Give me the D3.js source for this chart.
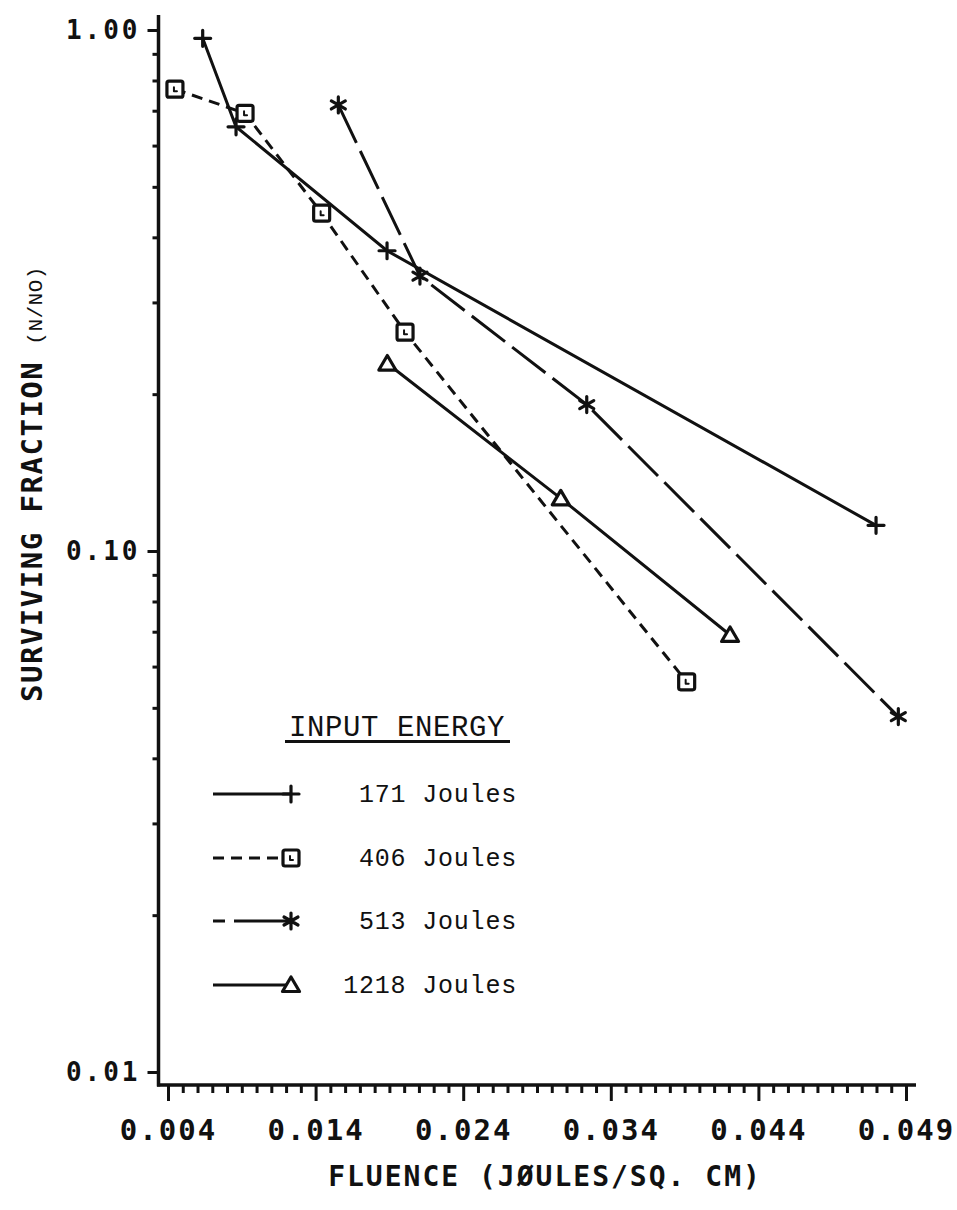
<!DOCTYPE html>
<html>
<head>
<meta charset="utf-8">
<script src="https://cdn.jsdelivr.net/npm/d3@7"></script>
<style>
  html, body { margin: 0; padding: 0; background: #fff; }
  svg { display: block; }
</style>
</head>
<body>
<svg id="chart" width="957" height="1210"></svg>
<script>
// Axis ticks
const xTickValues = [0.004, 0.014, 0.024, 0.034, 0.044, 0.054];
const xTickLabels = ["0.004", "0.014", "0.024", "0.034", "0.044", "0.049"];
const yTickValues = [0.01, 0.1, 1];
const yTickLabels = ["0.01", "0.10", "1.00"];

// Surviving fraction versus fluence for each input energy
const seriesNames = ["171 Joules", "406 Joules", "513 Joules", "1218 Joules"];
const fluence171 = [0.00635, 0.00861, 0.01884, 0.05197];
const surv171 = [0.964, 0.652, 0.377, 0.112];
const fluence406 = [0.00447, 0.00922, 0.01441, 0.02006, 0.03914];
const surv406 = [0.770, 0.692, 0.445, 0.263, 0.0561];
const fluence513 = [0.01554, 0.02107, 0.03237, 0.05348];
const surv513 = [0.718, 0.337, 0.191, 0.0481];
const fluence1218 = [0.01886, 0.03061, 0.04208];
const surv1218 = [0.229, 0.1262, 0.069];

const svg = d3.select("#chart");
svg.append("rect").attr("width", 957).attr("height", 1210).attr("fill", "#fff");

const x = d3.scaleLinear().domain([0.004, 0.054]).range([168, 906]);
const y = d3.scaleLog().domain([0.01, 1]).range([1072, 30]);

const axisX0 = 158.5, axisY0 = 1085;
const ink = "#111";
const plotFont = "'DejaVu Sans Mono', monospace";
const typeFont = "'Liberation Mono', 'DejaVu Sans Mono', monospace";

// ---- Y axis (log) ----
const yMinor = [];
[0.01, 0.1].forEach(dec => { for (let k = 2; k <= 9; k++) yMinor.push(dec * k); });

const gy = svg.append("g").attr("transform", `translate(${axisX0},0)`);
gy.call(d3.axisLeft(y).tickValues(yMinor).tickSize(6).tickFormat(""));
gy.call(g => g.selectAll(".domain").remove());
const gyMajor = svg.append("g").attr("transform", `translate(${axisX0},0)`);
gyMajor.call(d3.axisLeft(y).tickValues(yTickValues).tickSize(11)
  .tickFormat((d, i) => yTickLabels[yTickValues.indexOf(d)]).tickPadding(10));
gyMajor.select(".domain").remove();
[gy, gyMajor].forEach(g => g.selectAll(".tick line").attr("stroke", ink).attr("stroke-width", 3));
gyMajor.selectAll(".tick text")
  .attr("font-family", plotFont).attr("font-weight", "bold")
  .attr("font-size", 26).attr("letter-spacing", 3).attr("fill", ink)
  .attr("dx", 3);
svg.append("line").attr("x1", axisX0).attr("x2", axisX0).attr("y1", 15).attr("y2", axisY0 + 1.5)
  .attr("stroke", ink).attr("stroke-width", 3.5);

// ---- X axis ----
const xMinor = d3.range(0, 51).map(i => +(0.004 + i * 0.001).toFixed(4))
  .filter(v => !xTickValues.some(t => Math.abs(t - v) < 1e-9));
const gx = svg.append("g").attr("transform", `translate(0,${axisY0})`);
gx.call(d3.axisBottom(x).tickValues(xMinor).tickSize(8).tickFormat(""));
gx.select(".domain").remove();
const gxMajor = svg.append("g").attr("transform", `translate(0,${axisY0})`);
gxMajor.call(d3.axisBottom(x).tickValues(xTickValues).tickSize(16)
  .tickFormat(d => xTickLabels[xTickValues.indexOf(d)]).tickPadding(18));
gxMajor.select(".domain").remove();
[gx, gxMajor].forEach(g => g.selectAll(".tick line").attr("stroke", ink).attr("stroke-width", 3));
gxMajor.selectAll(".tick text")
  .attr("font-family", plotFont).attr("font-weight", "bold")
  .attr("font-size", 29).attr("letter-spacing", 2).attr("fill", ink);
svg.append("line").attr("x1", axisX0 - 1.5).attr("x2", 916).attr("y1", axisY0).attr("y2", axisY0)
  .attr("stroke", ink).attr("stroke-width", 3.5);

// ---- Axis titles ----
svg.append("text")
  .attr("x", 545).attr("y", 1186).attr("text-anchor", "middle")
  .attr("font-family", plotFont).attr("font-weight", "bold")
  .attr("font-size", 28).attr("letter-spacing", 2).attr("fill", ink)
  .text("FLUENCE (JØULES/SQ. CM)");

const yTitle = svg.append("text")
  .attr("transform", "translate(42,702) rotate(-90)")
  .attr("fill", ink);
yTitle.append("tspan")
  .attr("font-family", plotFont).attr("font-weight", "bold")
  .attr("font-size", 29).attr("letter-spacing", 1.5)
  .text("SURVIVING FRACTION");
yTitle.append("tspan")
  .attr("dx", 16)
  .attr("font-family", typeFont)
  .attr("font-size", 21).attr("letter-spacing", 0.5)
  .text("(N/NO)");

// ---- Marker shapes ----
function drawMarker(g, kind, cx, cy) {
  const m = g.append("g").attr("transform", `translate(${cx},${cy})`)
    .attr("fill", "none").attr("stroke", ink).attr("stroke-width", 3.2)
    .attr("stroke-linecap", "round").attr("stroke-linejoin", "round");
  if (kind === "plus") {
    m.append("path").attr("d", "M-8,0H8M0,-8V8");
  } else if (kind === "square") {
    m.append("rect").attr("x", -8).attr("y", -8).attr("width", 16).attr("height", 16)
      .attr("rx", 2).attr("fill", "#fff");
    m.append("path").attr("d", "M-1,-2V2H2").attr("stroke-width", 2);
  } else if (kind === "star") {
    m.append("path").attr("d", "M0,-8V8M-7,-4L7,4M-7,4L7,-4");
  } else if (kind === "triangle") {
    m.append("path").attr("d", "M0,-8L8.5,6.5H-8.5Z").attr("fill", "#fff");
  }
}

const series = [
  { name: seriesNames[0], xs: fluence171, ys: surv171, marker: "plus", dash: null },
  { name: seriesNames[1], xs: fluence406, ys: surv406, marker: "square", dash: "11,7" },
  { name: seriesNames[2], xs: fluence513, ys: surv513, marker: "star", dash: "42,9" },
  { name: seriesNames[3], xs: fluence1218, ys: surv1218, marker: "triangle", dash: null }
];

const line = d3.line().x(d => x(d[0])).y(d => y(d[1]));
const plot = svg.append("g");
series.forEach(s => {
  const pts = s.xs.map((v, i) => [v, s.ys[i]]);
  plot.append("path").datum(pts).attr("d", line)
    .attr("fill", "none").attr("stroke", ink).attr("stroke-width", 3)
    .attr("stroke-dasharray", s.dash);
});
series.forEach(s => {
  s.xs.forEach((v, i) => drawMarker(plot, s.marker, x(v), y(s.ys[i])));
});

// ---- Legend ----
const legend = svg.append("g");
legend.append("text")
  .attr("x", 397).attr("y", 736).attr("text-anchor", "middle")
  .attr("font-family", typeFont).attr("font-size", 29).attr("letter-spacing", 0.6)
  .attr("fill", ink).text("INPUT ENERGY");
legend.append("line").attr("x1", 285).attr("x2", 510).attr("y1", 741.5).attr("y2", 741.5)
  .attr("stroke", ink).attr("stroke-width", 3);

const rowY = [794, 858, 921, 985];
series.forEach((s, i) => {
  const ry = rowY[i];
  legend.append("line").attr("x1", 213).attr("x2", 290).attr("y1", ry).attr("y2", ry)
    .attr("stroke", ink).attr("stroke-width", 3).attr("stroke-dasharray", s.marker === "star" ? "12,9,60" : s.dash);
  drawMarker(legend, s.marker, 291, ry);
  legend.append("text")
    .attr("x", 517).attr("y", ry + 8).attr("text-anchor", "end")
    .attr("font-family", typeFont).attr("font-size", 25).attr("letter-spacing", 0.8)
    .attr("fill", ink).text(s.name);
});
</script>
</body>
</html>
